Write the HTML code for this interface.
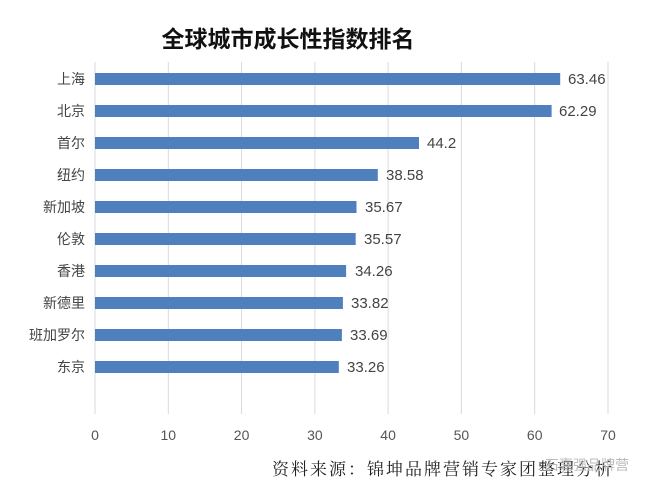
<!DOCTYPE html>
<html><head><meta charset="utf-8"><style>
body{margin:0;background:#fff;}
svg{display:block;font-family:"Liberation Sans","Noto Sans CJK SC",sans-serif;}
</style></head><body>
<svg width="660" height="492" xmlns="http://www.w3.org/2000/svg">
<rect width="660" height="492" fill="#fff"/>
<text x="288" y="47" font-size="23" font-weight="bold" text-anchor="middle" fill="#111">全球城市成长性指数排名</text>
<g stroke="#d9d9d9" stroke-width="1">
<line x1="95" y1="62" x2="95" y2="414"/>
<line x1="168.3" y1="62" x2="168.3" y2="414"/>
<line x1="241.6" y1="62" x2="241.6" y2="414"/>
<line x1="314.9" y1="62" x2="314.9" y2="414"/>
<line x1="388.1" y1="62" x2="388.1" y2="414"/>
<line x1="461.4" y1="62" x2="461.4" y2="414"/>
<line x1="534.7" y1="62" x2="534.7" y2="414"/>
<line x1="608" y1="62" x2="608" y2="414"/>
</g>
<g font-size="14" fill="#555" text-anchor="middle">
<text x="95" y="440">0</text><text x="168.3" y="440">10</text><text x="241.6" y="440">20</text><text x="314.9" y="440">30</text><text x="388.1" y="440">40</text><text x="461.4" y="440">50</text><text x="534.7" y="440">60</text><text x="608" y="440">70</text>
</g>
<g fill="#4f7fbc">
<rect x="95" y="73" width="465.2" height="12"/>
<rect x="95" y="105" width="456.6" height="12"/>
<rect x="95" y="137" width="324" height="12"/>
<rect x="95" y="169" width="282.8" height="12"/>
<rect x="95" y="201" width="261.5" height="12"/>
<rect x="95" y="233" width="260.7" height="12"/>
<rect x="95" y="265" width="251.1" height="12"/>
<rect x="95" y="297" width="247.9" height="12"/>
<rect x="95" y="329" width="246.9" height="12"/>
<rect x="95" y="361" width="243.8" height="12"/>
</g>
<g font-size="15" fill="#444">
<text x="568" y="84">63.46</text>
<text x="559" y="116">62.29</text>
<text x="427" y="148">44.2</text>
<text x="386" y="180">38.58</text>
<text x="365" y="212">35.67</text>
<text x="364" y="244">35.57</text>
<text x="355" y="276">34.26</text>
<text x="351" y="308">33.82</text>
<text x="350" y="340">33.69</text>
<text x="347" y="372">33.26</text>
</g>
<g font-size="14" fill="#444" text-anchor="end">
<text x="85" y="84">上海</text>
<text x="85" y="116">北京</text>
<text x="85" y="148">首尔</text>
<text x="85" y="180">纽约</text>
<text x="85" y="212">新加坡</text>
<text x="85" y="244">伦敦</text>
<text x="85" y="276">香港</text>
<text x="85" y="308">新德里</text>
<text x="85" y="340">班加罗尔</text>
<text x="85" y="372">东京</text>
</g>
<text x="272" y="475" font-size="17" letter-spacing="2" fill="#222" font-family="'Noto Serif CJK SC',serif">资料来源：锦坤品牌营销专家团整理分析</text>
<text x="545" y="470" font-size="14" fill="#bbb">石嘉强品牌营</text>
</svg>
</body></html>
